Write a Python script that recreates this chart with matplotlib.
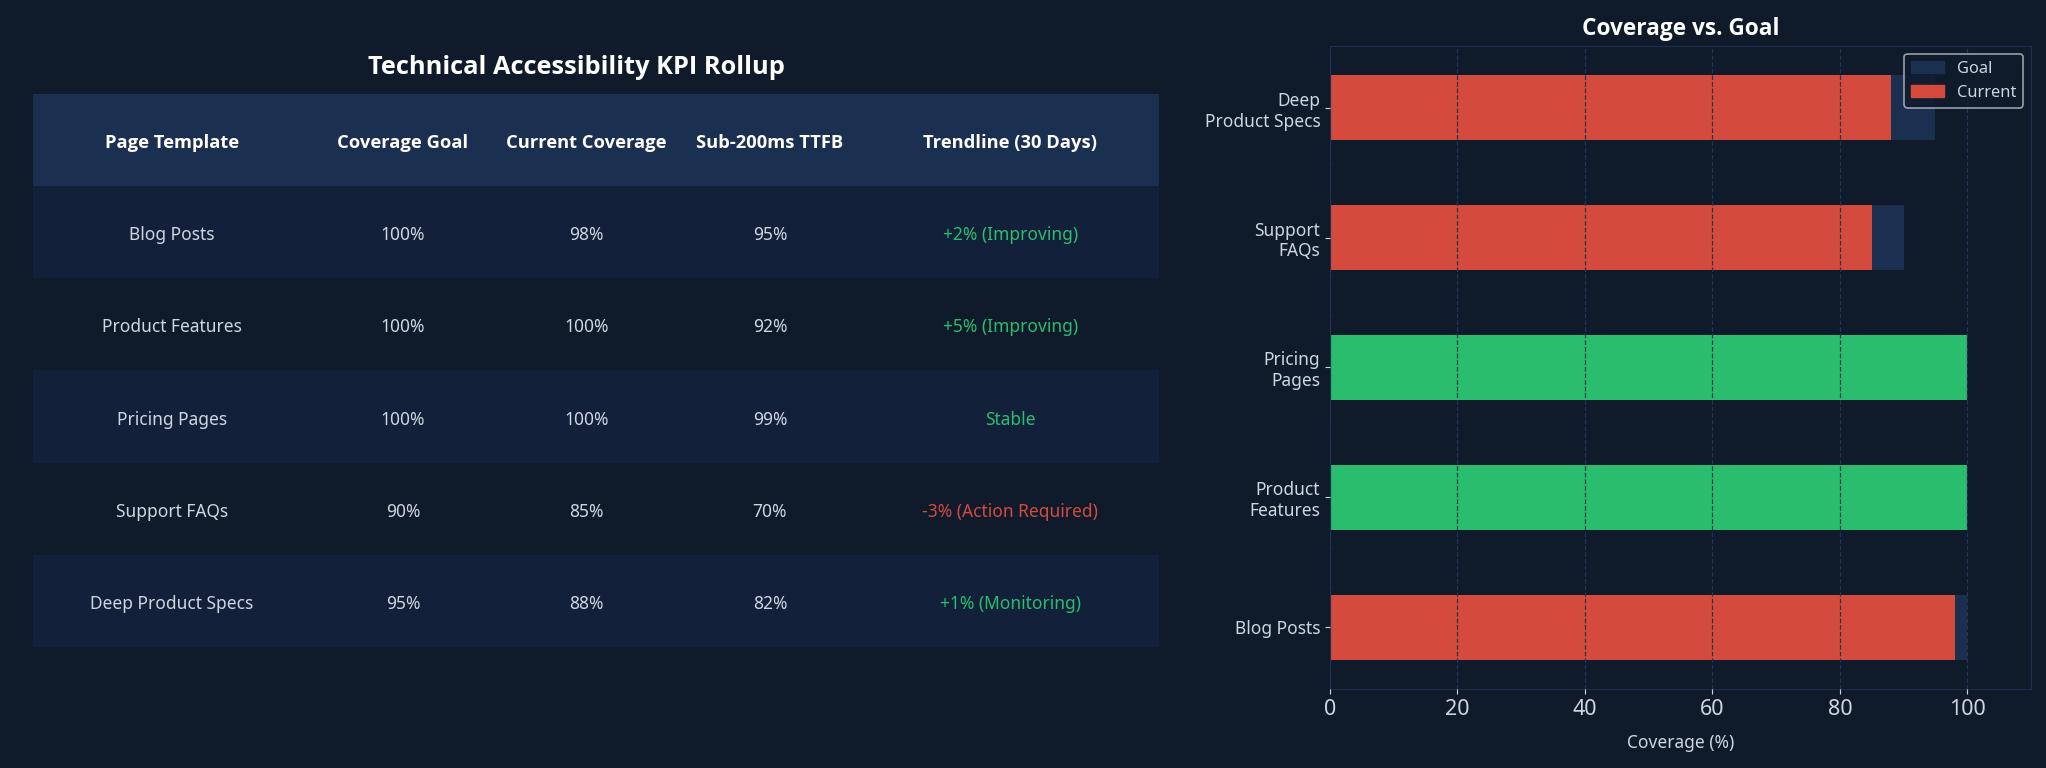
import matplotlib
matplotlib.use("Agg")
import matplotlib.pyplot as plt
from matplotlib.patches import Patch
from matplotlib.transforms import Affine2D

plt.rcParams['font.family'] = ['Noto Sans', 'DejaVu Sans']
NEGRITA = ['Open Sans', 'DejaVu Sans']

# datos
plantillas = ["Blog Posts", "Product Features", "Pricing Pages", "Support FAQs", "Deep Product Specs"]
etiquetas_barras = ["Blog Posts", "Product\nFeatures", "Pricing\nPages", "Support\nFAQs", "Deep\nProduct Specs"]
meta = [100, 100, 100, 90, 95]
actual = [98, 100, 100, 85, 88]
ttfb = [95, 92, 99, 70, 82]
tendencia = ["+2% (Improving)", "+5% (Improving)", "Stable", "-3% (Action Required)", "+1% (Monitoring)"]
columnas = ["Page Template", "Coverage Goal", "Current Coverage", "Sub-200ms TTFB", "Trendline (30 Days)"]

FONDO = "#0f1a2a"
CABECERA = "#1b2f50"
FILA_ALT = "#12203a"
TEXTO = "#cfd6e0"
VERDE = "#2bbd6e"
ROJO = "#d44b3e"
GRILLA = "#243654"

fig = plt.figure(figsize=(20.46, 7.68), dpi=100, facecolor=FONDO)

# tabla
ax_t = fig.add_axes([33 / 2046, 1 - 647 / 768, 1126 / 2046, 553 / 768])
ax_t.axis("off")
ax_t.set_facecolor(FONDO)

filas = []
for i in range(len(plantillas)):
    filas.append([plantillas[i], f"{meta[i]}%", f"{actual[i]}%", f"{ttfb[i]}%", tendencia[i]])

tabla = ax_t.table(
    cellText=filas,
    colLabels=columnas,
    cellLoc="center",
    colWidths=[0.247, 0.163, 0.163, 0.163, 0.264],
    bbox=[0, 0, 1, 1]
)
tabla.auto_set_font_size(False)

for (r, c), celda in tabla.get_celld().items():
    celda.set_linewidth(0)
    texto = celda.get_text()
    texto.set_fontsize(12.5)
    texto.set_transform(Affine2D().translate(0, -3))
    if r == 0:
        celda.set_facecolor(CABECERA)
        texto.set_color("white")
        texto.set_family(NEGRITA)
        texto.set_fontweight("bold")
        texto.set_fontsize(13.2)
    else:
        celda.set_facecolor(FILA_ALT if r % 2 == 1 else FONDO)
        texto.set_color(TEXTO)
        if c == 4:
            texto.set_color(ROJO if tendencia[r - 1].startswith("-") else VERDE)

fig.text(576 / 2046, 1 - 68 / 768, "Technical Accessibility KPI Rollup",
         ha="center", va="center", color="white", fontsize=18.3, fontweight="bold", family=NEGRITA)

# barras
ax = fig.add_axes([1330 / 2046, 1 - 689 / 768, 701 / 2046, 643 / 768])
ax.set_facecolor(FONDO)
y = range(len(plantillas))
colores = [VERDE if a >= m else ROJO for a, m in zip(actual, meta)]
ax.barh(y, meta, height=0.5, color=CABECERA)
ax.barh(y, actual, height=0.5, color=colores)
ax.set_xlim(0, 110)
ax.set_yticks(list(y))
ax.set_yticklabels(etiquetas_barras, fontsize=12.5, color=TEXTO)
ax.tick_params(axis="x", colors=TEXTO, labelsize=15.5)
ax.tick_params(axis="y", colors=TEXTO)
ax.set_xlabel("Coverage (%)", color=TEXTO, fontsize=12.5, labelpad=10)
ax.set_title("Coverage vs. Goal", color="white", fontsize=16.3, fontweight="bold", family=NEGRITA, pad=8)
ax.set_axisbelow(False)
ax.grid(axis="x", color=GRILLA, linestyle="--", linewidth=0.9)
for s in ax.spines.values():
    s.set_color("#1e3050")

ley = ax.legend(
    handles=[Patch(color=CABECERA, label="Goal"), Patch(color=ROJO, label="Current")],
    loc="upper right", fontsize=11.8, facecolor=FONDO, edgecolor="#b8c0cc",
    labelcolor=TEXTO, borderaxespad=0.5, handlelength=2.0
)
ley.get_frame().set_linewidth(1.2)

fig.savefig("out.png", dpi=100, facecolor=FONDO)
